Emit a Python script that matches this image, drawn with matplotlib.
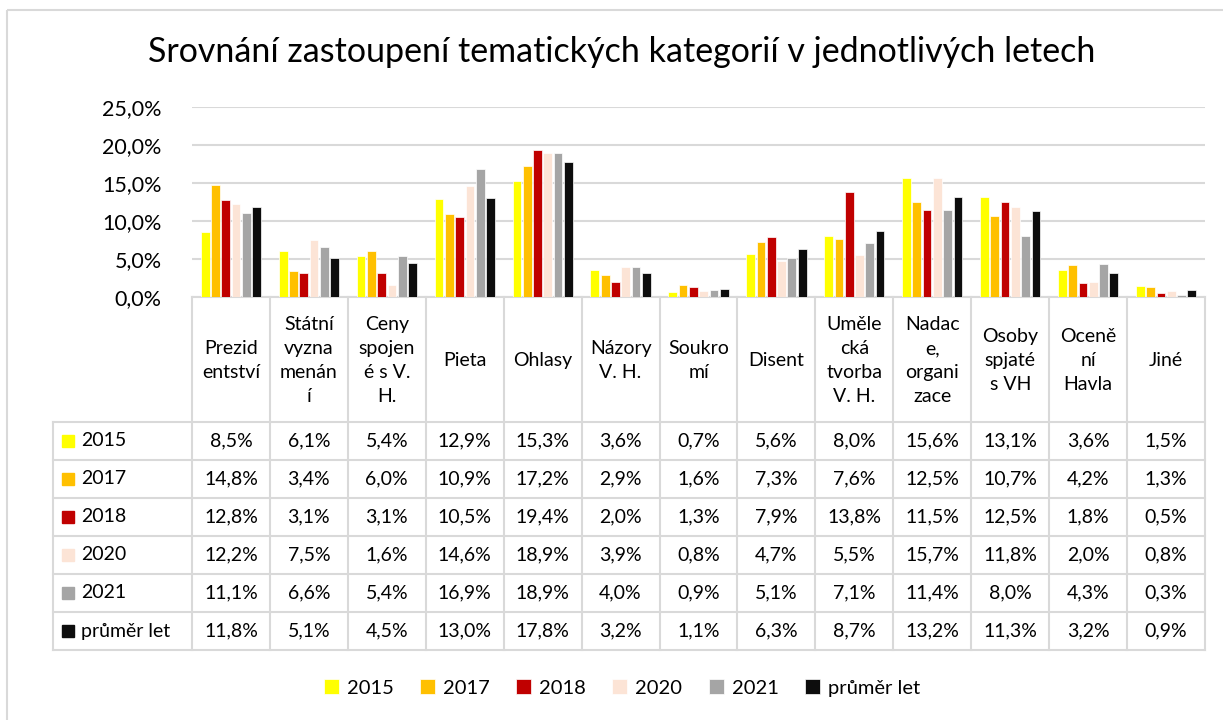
import matplotlib
matplotlib.use('Agg')
import matplotlib.pyplot as plt
import matplotlib.transforms as mtransforms
from matplotlib.lines import Line2D
from matplotlib.patches import Rectangle
import numpy as np

plt.rcParams['font.family'] = ['Lato', 'DejaVu Sans']

# data
kategorie = ['Prezid\nentství', 'Státní\nvyzna\nmenán\ní', 'Ceny\nspojen\né s V.\nH.', 'Pieta', 'Ohlasy',
             'Názory\nV. H.', 'Soukro\nmí', 'Disent', 'Uměle\ncká\ntvorba\nV. H.', 'Nadac\ne,\norgani\nzace',
             'Osoby\nspjaté\ns VH', 'Oceně\nní\nHavla', 'Jiné']
roky = ['2015', '2017', '2018', '2020', '2021', 'průměr let']
v2015 = [8.5, 6.1, 5.4, 12.9, 15.3, 3.6, 0.7, 5.6, 8.0, 15.6, 13.1, 3.6, 1.5]
v2017 = [14.8, 3.4, 6.0, 10.9, 17.2, 2.9, 1.6, 7.3, 7.6, 12.5, 10.7, 4.2, 1.3]
v2018 = [12.8, 3.1, 3.1, 10.5, 19.4, 2.0, 1.3, 7.9, 13.8, 11.5, 12.5, 1.8, 0.5]
v2020 = [12.2, 7.5, 1.6, 14.6, 18.9, 3.9, 0.8, 4.7, 5.5, 15.7, 11.8, 2.0, 0.8]
v2021 = [11.1, 6.6, 5.4, 16.9, 18.9, 4.0, 0.9, 5.1, 7.1, 11.4, 8.0, 4.3, 0.3]
prumer = [11.8, 5.1, 4.5, 13.0, 17.8, 3.2, 1.1, 6.3, 8.7, 13.2, 11.3, 3.2, 0.9]
serie = [v2015, v2017, v2018, v2020, v2021, prumer]
barvy = ['#FFFF00', '#FFC000', '#C00000', '#FCE4D6', '#A5A5A5', '#0D0D0D']
yticky = [0, 5, 10, 15, 20, 25]

W, H = 1223, 720
fig = plt.figure(figsize=(W / 100, H / 100), dpi=100)
# pixel coords from top-left
pt = mtransforms.Affine2D().scale(1 / W, -1 / H).translate(0, 1) + fig.transFigure

L, R, TOP, BOT = 192, 1205, 107, 297
ax = fig.add_axes([L / W, (H - BOT) / H, (R - L) / W, (BOT - TOP) / H])

sirka = 0.112
krok = 0.132
x = np.arange(len(kategorie))
for j, (vals, c) in enumerate(zip(serie, barvy)):
    ax.bar(x + (j - 2.5) * krok, vals, width=sirka, color=c, edgecolor='white',
           linewidth=0.5, label=roky[j], zorder=3)

ax.set_xlim(-0.5, len(kategorie) - 0.5)
ax.set_ylim(0, 25)
ax.set_yticks(yticky)
ax.set_yticklabels([f'{t:.1f}%'.replace('.', ',') for t in yticky], fontsize=15.5)
ax.set_xticks([])
ax.tick_params(axis='y', length=0, pad=22)
ax.grid(axis='y', color='#D9D9D9', linewidth=1.5, zorder=0)
for s in ['top', 'right', 'left']:
    ax.spines[s].set_visible(False)
ax.spines['bottom'].set_color('#D9D9D9')
ax.spines['bottom'].set_linewidth(1.5)

# title
fig.text(622, 52, 'Srovnání zastoupení tematických kategorií v jednotlivých letech',
         transform=pt, ha='center', va='center', fontsize=24.5)

# data table
seda = '#D9D9D9'
sloupec = (R - L) / len(kategorie)
hlavicka = 422
radek = 38
LT = 53
dno = hlavicka + radek * len(roky)

def cara(x0, y0, x1, y1):
    fig.add_artist(Line2D([x0, x1], [y0, y1], transform=pt, color=seda, linewidth=1.5))

for i in range(len(kategorie) + 1):
    cara(L + i * sloupec, BOT, L + i * sloupec, dno)
cara(LT, hlavicka, LT, dno)
for k in range(len(roky) + 1):
    cara(LT, hlavicka + k * radek, R, hlavicka + k * radek)

for i, kat in enumerate(kategorie):
    fig.text(L + (i + 0.5) * sloupec, (BOT + hlavicka) / 2 + 1, kat, transform=pt,
             ha='center', va='center', fontsize=14, linespacing=1.5)

for k, (rok, vals, c) in enumerate(zip(roky, serie, barvy)):
    yc = hlavicka + (k + 0.5) * radek
    fig.add_artist(Rectangle((62, yc - 6), 12, 12, transform=pt, color=c))
    fig.text(81, yc, rok, transform=pt, ha='left', va='center', fontsize=14)
    for i, v in enumerate(vals):
        fig.text(L + (i + 0.5) * sloupec, yc, f'{v:.1f}%'.replace('.', ','), transform=pt,
                 ha='center', va='center', fontsize=14)

# legend
fig.legend(loc='center', bbox_to_anchor=(622 / W, 1 - 688 / H), ncol=6, frameon=False,
           fontsize=14.5, handlelength=0.75, handleheight=0.75, handletextpad=0.4,
           columnspacing=1.3)

# outer frame
fig.add_artist(Rectangle((7, 10), W, H, transform=pt, fill=False, edgecolor=seda, linewidth=1.5))

fig.savefig('out.png', dpi=100)
